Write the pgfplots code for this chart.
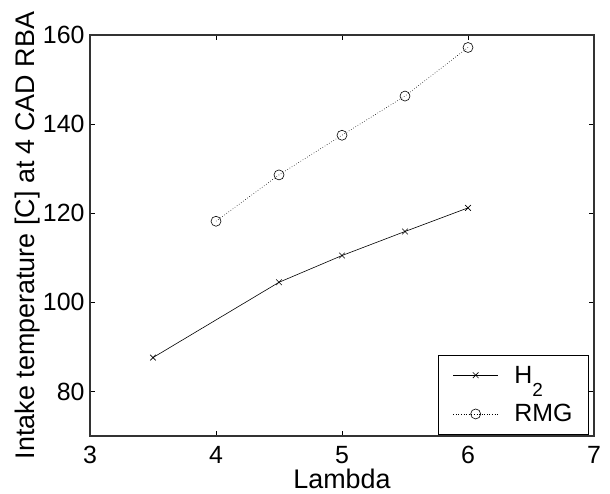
\documentclass[border=0pt]{standalone}
\usepackage{fontspec}
\setmainfont{Liberation Sans}
\usepackage{pgfplots}
\pgfplotsset{compat=1.18}
\begin{document}
\begin{tikzpicture}
\begin{axis}[
  scale only axis,
  width=504bp, height=401bp,
  xmin=3, xmax=7, ymin=70, ymax=160,
  xtick={3,4,5,6,7}, ytick={80,100,120,140,160},
  tick align=inside, major tick length=5bp,
  axis line style={line width=1.2bp, black!80},
  tick style={black, line width=0.6bp},
  /pgf/number format/assume math mode=true,
  ticklabel style={font=\fontsize{25}{28}\selectfont},
  xticklabel style={yshift=-7bp},
  yticklabel style={xshift=-2bp},
  label style={font=\fontsize{27}{30}\selectfont},
  xlabel={Lambda},
  ylabel={Intake temperature [C] at 4 CAD RBA},
  xlabel style={yshift=1.5bp},
  ylabel style={yshift=-4bp},
  legend style={at={(0.99,0.003)}, anchor=south east, font=\fontsize{25}{28}\selectfont,
    draw=black, line width=0.8bp, inner xsep=14bp, inner ysep=9bp, row sep=16bp,
    /tikz/every odd column/.append style={column sep=14bp}},
  legend cell align=left,
  legend image code/.code={\draw[#1] (0bp,0bp) -- (45bp,0bp); \draw[#1, only marks, mark options={solid}] plot coordinates {(22.5bp,0bp)};},
]
\addplot[black, line width=0.6bp, mark=x, mark size=4bp] coordinates {
  (3.5,87.6) (4.5,104.5) (5,110.5) (5.5,115.9) (6,121.2)
};
\addlegendentry{H\raisebox{-13bp}{\fontsize{19}{20}\selectfont 2}}
\addplot[black, line width=0.6bp, dotted, mark=o, mark size=5bp, mark options={solid}] coordinates {
  (4,118.2) (4.5,128.6) (5,137.5) (5.5,146.3) (6,157.2)
};
\addlegendentry{RMG}
\end{axis}
\path (current axis.south west) ++(-90bp,-58bp) rectangle ++(610bp,494bp);
\end{tikzpicture}
\end{document}
